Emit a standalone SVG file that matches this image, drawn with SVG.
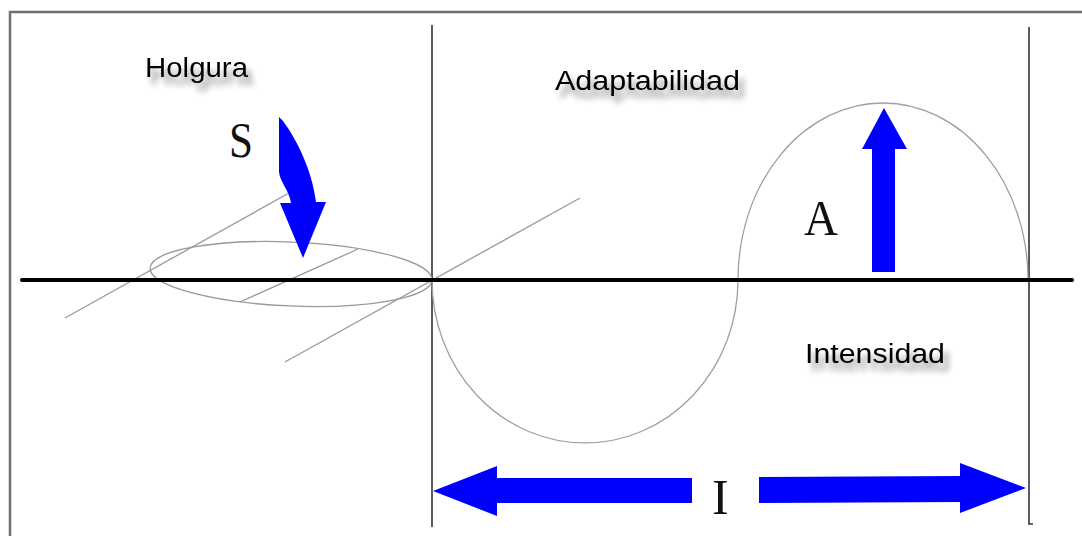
<svg xmlns="http://www.w3.org/2000/svg" width="1082" height="536" viewBox="0 0 1082 536">
<style>
.lbl{font-family:"Liberation Sans",Arial,sans-serif;font-size:27px;fill:#000}
.let{font-family:"Liberation Serif","Times New Roman",serif;font-size:50px;fill:#111}
.thin{fill:none;stroke:#999;stroke-width:1.3}
.curve{fill:none;stroke:#a0a0a0;stroke-width:1.3}
.vline{stroke:#333;stroke-width:1.6;fill:none}
.blue{fill:#0000ff}
</style>
<defs>
<filter id="shadow" x="-20%" y="-50%" width="140%" height="250%">
<feGaussianBlur in="SourceAlpha" stdDeviation="3"/>
<feOffset dx="5" dy="8" result="b"/>
<feComponentTransfer><feFuncA type="linear" slope="0.45"/></feComponentTransfer>
<feMerge><feMergeNode/><feMergeNode in="SourceGraphic"/></feMerge>
</filter>
</defs>
<rect x="0" y="0" width="1082" height="536" fill="#fff"/>
<rect id="frame" x="10" y="12" width="1100" height="560" fill="none" stroke="#707070" stroke-width="2.5"/>

<g id="geometry">
<line class="vline" x1="432" y1="25" x2="432" y2="527"/>
<polyline class="vline" points="1029,27 1029,524 1033,524"/>
<ellipse class="thin" cx="291" cy="274" rx="141" ry="32" transform="rotate(2.4 291 274)"/>
<line class="thin" x1="65" y1="318" x2="289" y2="193"/>
<line class="thin" x1="285" y1="362" x2="580" y2="198"/>
<line class="thin" x1="240" y1="302" x2="358" y2="249"/>
<path class="curve" d="M432,280 A153,163 0 0 0 738,280"/>
<path class="curve" d="M738,280 A145,177 0 0 1 1028,280"/>
<line x1="22" y1="280" x2="1072" y2="280" stroke="#000" stroke-width="4" stroke-linecap="round"/>
</g>

<g id="connectors">
<path id="arrow-S" class="blue" d="M279,117 L283,121 C297,140 312,170 316,202 L326,202 L303,258 L280,203 L291,203 C289,190 280,182 279,172 Z"/>
<path id="arrow-A" class="blue" d="M884,108 L907,149 L895,149 L895,272 L872,272 L872,149 L862,149 Z"/>
<path id="arrow-I-left" class="blue" d="M433,491 L497,466 L497,478 L692,478 L692,503 L497,503 L497,516 Z"/>
<path id="arrow-I-right" class="blue" d="M1026,488 L960,463 L960,476 L759,477 L759,503 L960,502 L960,513 Z"/>
</g>

<g id="node-holgura"><text class="lbl" x="145" y="77" textLength="103" lengthAdjust="spacingAndGlyphs" filter="url(#shadow)">Holgura</text></g>
<g id="node-adaptabilidad"><text class="lbl" x="555" y="90" textLength="185" lengthAdjust="spacingAndGlyphs" filter="url(#shadow)">Adaptabilidad</text></g>
<g id="node-intensidad"><text class="lbl" x="805" y="363" textLength="140" lengthAdjust="spacingAndGlyphs" filter="url(#shadow)">Intensidad</text></g>
<g id="node-S"><text class="let" x="229" y="157" textLength="24" lengthAdjust="spacingAndGlyphs">S</text></g>
<g id="node-A"><text class="let" x="804" y="235" textLength="34" lengthAdjust="spacingAndGlyphs">A</text></g>
<g id="node-I"><text class="let" x="712" y="514">I</text></g>
</svg>
